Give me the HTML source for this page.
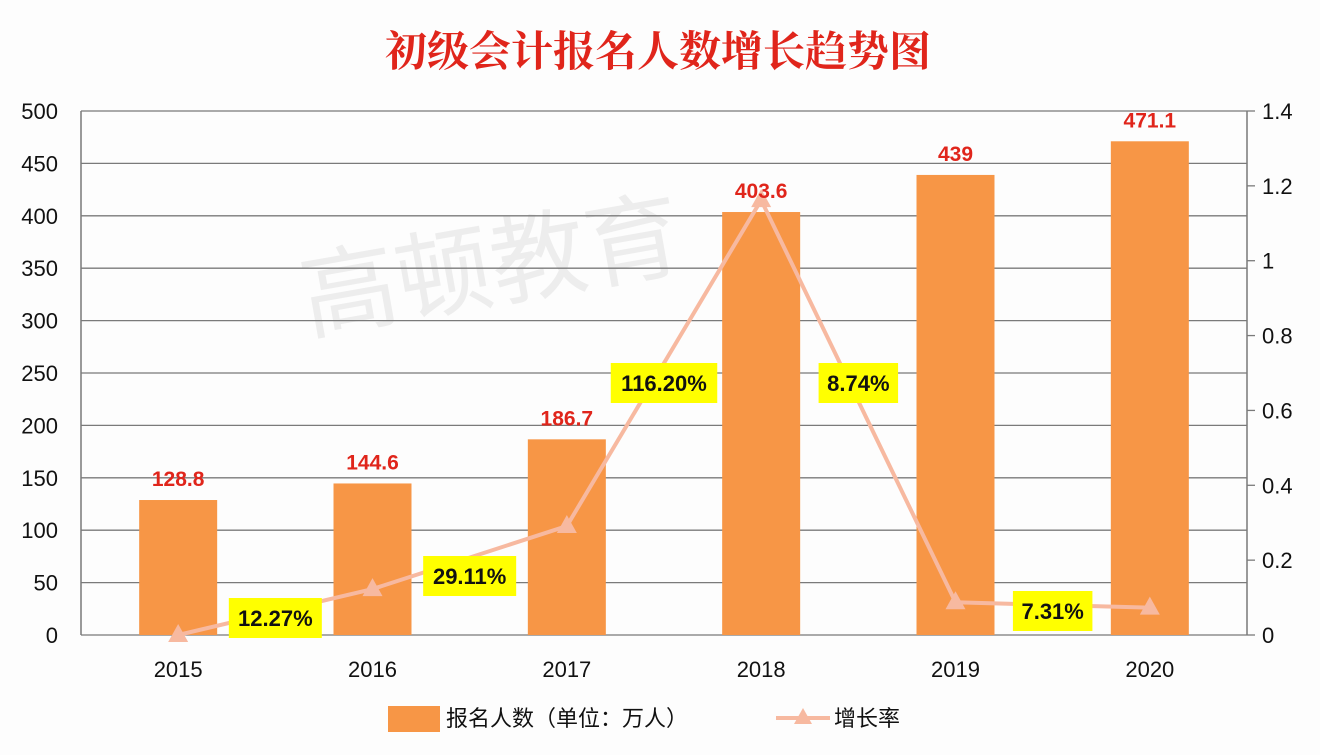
<!DOCTYPE html>
<html><head><meta charset="utf-8"><style>
body{margin:0;background:#fdfdfd;}
svg text{font-family:"Liberation Sans","Noto Sans CJK SC",sans-serif;}
</style></head><body>
<svg width="1320" height="750" viewBox="0 0 1320 750">
<rect width="1320" height="750" fill="#fdfdfd"/>
<text x="658" y="66" text-anchor="middle" font-size="42" font-weight="bold" fill="#e0251b" style="font-family:'Liberation Serif','Noto Serif CJK SC',serif">初级会计报名人数增长趋势图</text>
<text x="490" y="300" text-anchor="middle" font-size="96" fill="#ededed" transform="rotate(-10 490 260)">高顿教育</text>
<g id="grid"></g><g id="bars"></g><g id="line"></g><g id="labels"></g><g id="axes"></g>
<g>
<rect x="388" y="706" width="52" height="26" fill="#f79646"/>
<text x="446" y="726" font-size="22" fill="#111">报名人数（单位：万人）</text>
<line x1="776" y1="718" x2="830" y2="718" stroke="#f7b9a0" stroke-width="4"/>
<polygon points="803,708 812,724 794,724" fill="#f7b9a0"/>
<text x="834" y="726" font-size="22" fill="#111">增长率</text>
</g>
</svg>
<script>
const categories=["2015","2016","2017","2018","2019","2020"];
const counts=[128.8,144.6,186.7,403.6,439,471.1];
const countLabels=["128.8","144.6","186.7","403.6","439","471.1"];
const rates=[0,0.1227,0.2911,1.162,0.0874,0.0731];
const rateLabels=["12.27%","29.11%","116.20%","8.74%","7.31%"];
const leftTicks=[0,50,100,150,200,250,300,350,400,450,500];
const rightTicks=[0,0.2,0.4,0.6,0.8,1,1.2,1.4];
const NS="http://www.w3.org/2000/svg";
const L=81,R=1247,T=111,B=635;
const yL=v=>B-(v/500)*(B-T);
const yR=v=>B-(v/1.4)*(B-T);
const step=(R-L)/categories.length;
const xC=i=>L+step*(i+0.5);
function mk(tag,attrs,parent,txt){const e=document.createElementNS(NS,tag);for(const k in attrs)e.setAttribute(k,attrs[k]);if(txt!==undefined)e.textContent=txt;document.getElementById(parent).appendChild(e);return e;}
leftTicks.forEach(v=>{
 const g=mk('line',{x1:L,x2:R,y1:yL(v),y2:yL(v),stroke:'#7a7a7a','stroke-width':1.3},'grid');
 
 
 const t=mk('text',{x:58,y:yL(v)+8,'text-anchor':'end','font-size':22,fill:'#111'},'axes',String(v));
 
 
});
rightTicks.forEach(v=>{
 const tk=mk('line',{x1:R,x2:R+8,y1:yR(v),y2:yR(v),stroke:'#7a7a7a','stroke-width':1.3},'axes');
 
 
 const t=mk('text',{x:1262,y:yR(v)+8,'font-size':22,fill:'#111'},'axes',String(v));
 
 
});
let a=mk('line',{x1:L,x2:L,y1:T,y2:B,stroke:'#7a7a7a','stroke-width':1.5},'axes');


a=mk('line',{x1:R,x2:R,y1:T,y2:B,stroke:'#7a7a7a','stroke-width':1.5},'axes');


const bw=78;
categories.forEach((c,i)=>{
 const b=mk('rect',{x:xC(i)-bw/2,y:yL(counts[i]),width:bw,height:B-yL(counts[i]),fill:'#f79646'},'bars');
 
 
 const t=mk('text',{x:xC(i),y:yL(counts[i])-14,'text-anchor':'middle','font-size':21,'font-weight':'bold',fill:'#e0251b'},'labels',countLabels[i]);
 
 
 const x=mk('text',{x:xC(i),y:677,'text-anchor':'middle','font-size':22,fill:'#111'},'axes',c);
 
 
});
const pl=mk('polyline',{points:rates.map((r,i)=>xC(i)+','+yR(r)).join(' '),fill:'none',stroke:'#f7b9a0','stroke-width':4},'line');


rates.forEach((r,i)=>{
 const x=xC(i),y=yR(r);
 const m=mk('polygon',{points:`${x},${y-11} ${x+10},${y+7} ${x-10},${y+7}`,fill:'#f7b9a0'},'line');
 
 
});
rateLabels.forEach((s,i)=>{
 const cx=(xC(i)+xC(i+1))/2;
 const cy=[618,576,383,383,611][i];
 const w=s.length*13.5+12;
 const r=mk('rect',{x:cx-w/2,y:cy-20,width:w,height:40,fill:'#ffff00'},'labels');
 
 
 const t=mk('text',{x:cx,y:cy+8,'text-anchor':'middle','font-size':22,'font-weight':'bold',fill:'#111'},'labels',s);
 
 
});
</script>
</body></html>
